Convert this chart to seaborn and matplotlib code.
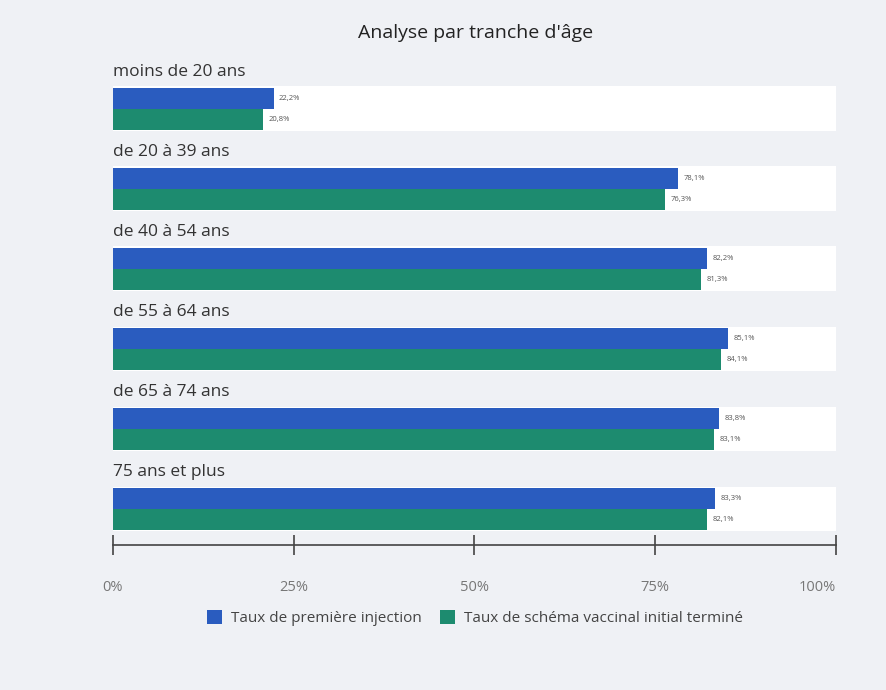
import matplotlib
matplotlib.use("Agg")
import matplotlib.pyplot as plt
import seaborn as sns
import pandas as pd
from matplotlib.patches import Patch

categories = ["moins de 20 ans", "de 20 à 39 ans", "de 40 à 54 ans",
              "de 55 à 64 ans", "de 65 à 74 ans", "75 ans et plus"]
first_injection = [22.2, 78.1, 82.2, 85.1, 83.8, 83.3]
full_schema = [20.8, 76.3, 81.3, 84.1, 83.1, 82.1]
series_names = ["Taux de première injection", "Taux de schéma vaccinal initial terminé"]
xticks = [0, 25, 50, 75, 100]
xtick_labels = ["0%", "25%", "50%", "75%", "100%"]
title = "Analyse par tranche d'âge"

colors = ["#2a5cbf", "#1d8b6f"]
bg = "#eff1f5"

df = pd.DataFrame({
    "cat": categories * 2,
    "val": first_injection + full_schema,
    "serie": [series_names[0]] * len(categories) + [series_names[1]] * len(categories),
})

sns.set_theme(style="white")
plt.rcParams["font.family"] = ["Open Sans", "DejaVu Sans"]

fig = plt.figure(figsize=(8.87, 6.90), dpi=100, facecolor=bg)
ax = fig.add_axes([113/887, 1-545/690, (836-113)/887, (545-60)/690])
ax.set_facecolor("none")

# white row bands
ax.barh(range(len(categories)), 100, height=0.56, color="white", zorder=0, linewidth=0)

sns.barplot(data=df, y="cat", x="val", hue="serie", palette=colors, orient="h",
            width=0.53, gap=0, ax=ax, legend=False, zorder=2, linewidth=0,
            saturation=1)

bar_conts = [c for c in ax.containers if len(c) == len(categories)][-2:]
for cont in bar_conts:
    labels = [f"{b.get_width():.1f}%".replace(".", ",") for b in cont]
    ax.bar_label(cont, labels=labels, padding=4, fontsize=5.5, color="#555555")

for i, cat in enumerate(categories):
    ax.text(0, i - 0.46, cat, ha="left", va="center", fontsize=12.5, color="#333333")

ax.set_xlim(0, 100)
ax.set_ylim(5.45, -0.61)
ax.set_xticks(xticks)
ax.set_xticklabels(xtick_labels, fontsize=10.5, color="#777777")
ticklabs = ax.get_xticklabels()
ticklabs[-1].set_horizontalalignment("right")
ax.set_yticks([])
ax.set_xlabel("")
ax.set_ylabel("")
for s in ["top", "right", "left"]:
    ax.spines[s].set_visible(False)
ax.spines["bottom"].set_color("#444444")
ax.spines["bottom"].set_linewidth(1.2)
ax.tick_params(axis="x", direction="inout", length=14, width=1.2, color="#444444",
               pad=18, bottom=True)

fig.text(476/887, 1-33/690, title, ha="center", va="center", fontsize=14,
         color="#222222", fontweight="medium")

handles = [Patch(facecolor=c, edgecolor="none") for c in colors]
fig.legend(handles, series_names, loc="center", bbox_to_anchor=(475/887, 1-618/690),
           ncol=2, frameon=False, fontsize=11, handlelength=1.0, handleheight=1.0,
           columnspacing=1.2, handletextpad=0.6, labelcolor="#444444")

fig.savefig("out.png", dpi=100, facecolor=bg)
